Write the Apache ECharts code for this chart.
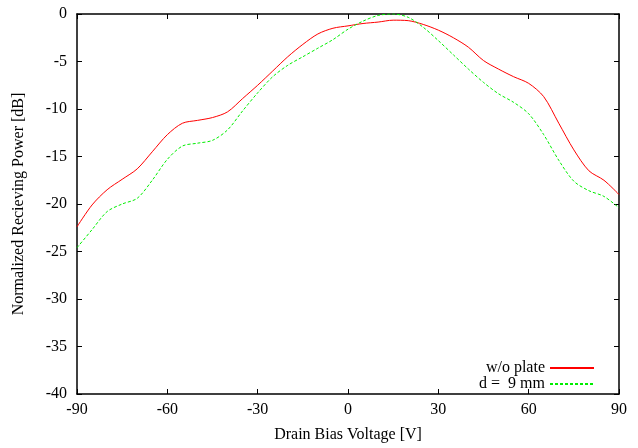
<!DOCTYPE html>
<html>
<head>
<meta charset="utf-8">
<script src="https://cdn.jsdelivr.net/npm/echarts@6/dist/echarts.min.js"></script>
<style>
  html, body { margin: 0; padding: 0; background: #fff; }
  #chart { width: 638px; height: 448px; }
</style>
</head>
<body>
<div id="chart"></div>
<script>
// drain bias voltage steps [V]
const voltage = [-90, -85, -80, -75, -70, -65, -60, -55, -50, -45, -40, -35, -30, -25, -20, -15, -10, -5,
  0, 5, 10, 15, 20, 25, 30, 35, 40, 45, 50, 55, 60, 65, 70, 75, 80, 85, 90]

// normalized receiving power [dB]
const withoutPlate = [-22.4, -20.1, -18.5, -17.4, -16.3, -14.5, -12.7, -11.5, -11.2, -10.9, -10.3, -8.9, -7.5,
  -6.0, -4.5, -3.2, -2.1, -1.5, -1.25, -1.0, -0.85, -0.65, -0.7, -1.1, -1.7, -2.5, -3.5, -4.9, -5.8, -6.6,
  -7.3, -8.7, -11.5, -14.3, -16.5, -17.5, -19.0]
const plate9mm = [-24.6, -22.7, -20.8, -20.0, -19.4, -17.5, -15.3, -13.9, -13.6, -13.3, -12.2, -10.2, -8.3,
  -6.6, -5.4, -4.5, -3.6, -2.7, -1.6, -0.75, -0.15, 0, -0.35, -1.4, -2.8, -4.3, -5.8, -7.2, -8.4, -9.3,
  -10.5, -12.7, -15.4, -17.6, -18.6, -19.2, -20.4]

const seriesNames = ['w/o plate', 'd =  9 mm']

const font = 'Liberation Serif'

const chart = echarts.init(document.getElementById('chart'))

function pairs(ys) {
  return voltage.map((v, i) => [v, ys[i]])
}

const boxAxis = {
  axisLine: { show: true, onZero: false, lineStyle: { color: '#000', width: 1.5 } },
  axisTick: { show: true, inside: true, length: 5, lineStyle: { color: '#000' } },
  splitLine: { show: false }
}

const option = {
  backgroundColor: '#fff',
  animation: false,
  textStyle: { fontFamily: font },
  grid: { left: 77, right: 19, top: 14, bottom: 52 },
  legend: {
    orient: 'vertical',
    right: 38,
    bottom: 51,
    align: 'right',
    itemWidth: 44,
    itemHeight: 10,
    itemGap: 0,
    itemStyle: { opacity: 0 },
    textStyle: { fontFamily: font, fontSize: 16, color: '#000' },
    data: seriesNames
  },
  xAxis: [
    {
      ...boxAxis,
      type: 'value',
      min: -90,
      max: 90,
      interval: 30,
      name: 'Drain Bias Voltage [V]',
      nameLocation: 'middle',
      nameGap: 33,
      nameTextStyle: { fontFamily: font, fontSize: 16, color: '#000' },
      axisLabel: { margin: 8, fontFamily: font, fontSize: 16, color: '#000' }
    },
    {
      ...boxAxis,
      type: 'value',
      position: 'top',
      min: -90,
      max: 90,
      interval: 30,
      axisLabel: { show: false }
    }
  ],
  yAxis: [
    {
      ...boxAxis,
      type: 'value',
      min: -40,
      max: 0,
      interval: 5,
      name: 'Normalized Recieving Power [dB]',
      nameLocation: 'middle',
      nameGap: 50,
      nameTextStyle: { fontFamily: font, fontSize: 16, color: '#000' },
      axisLabel: { margin: 10, fontFamily: font, fontSize: 16, color: '#000' }
    },
    {
      ...boxAxis,
      type: 'value',
      position: 'right',
      min: -40,
      max: 0,
      interval: 5,
      axisLabel: { show: false }
    }
  ],
  series: [
    {
      name: seriesNames[0],
      type: 'line',
      data: pairs(withoutPlate),
      smooth: 0.3,
      symbol: 'none',
      color: '#ff0000',
      lineStyle: { color: '#ff0000', width: 1 }
    },
    {
      name: seriesNames[1],
      type: 'line',
      data: pairs(plate9mm),
      smooth: 0.3,
      symbol: 'none',
      color: '#00ee00',
      lineStyle: { color: '#00ee00', width: 1, type: [3, 2] }
    }
  ]
}

chart.setOption(option)
</script>
</body>
</html>
